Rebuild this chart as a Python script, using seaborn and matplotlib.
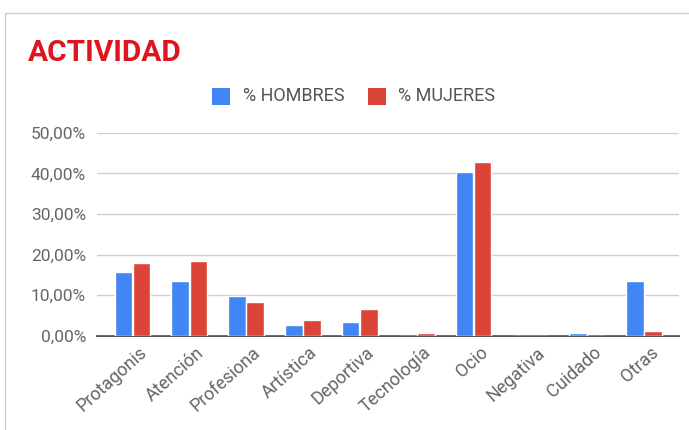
import seaborn as sns
import matplotlib.pyplot as plt
import matplotlib.transforms as mtransforms
import pandas as pd
from matplotlib.ticker import FuncFormatter, MultipleLocator
from matplotlib.patches import Rectangle

categorias = ["Protagonis", "Atención", "Profesiona", "Artística", "Deportiva",
              "Tecnología", "Ocio", "Negativa", "Cuidado", "Otras"]
hombres = [15.8, 13.6, 9.9, 2.7, 3.5, 0.0, 40.3, 0.0, 0.6, 13.6]
mujeres = [18.0, 18.5, 8.4, 3.9, 6.5, 0.6, 42.9, 0.0, 0.0, 1.3]
series = ["% HOMBRES", "% MUJERES"]
colores = ["#4285F4", "#DB4437"]

df = pd.DataFrame({
    "Actividad": categorias * 2,
    "Serie": [series[0]] * len(categorias) + [series[1]] * len(categorias),
    "Valor": hombres + mujeres,
})

sns.set_style("white")
plt.rcParams['font.family'] = ['Roboto', 'DejaVu Sans']

fig = plt.figure(figsize=(6.89, 4.3), dpi=100)
ax = fig.add_axes([0.141, 0.219, 0.845, 0.472])

sns.barplot(data=df, x="Actividad", y="Valor", hue="Serie", palette=colores,
            width=0.64, gap=0.04, saturation=1, legend=False, ax=ax)

ax.set_ylim(0, 50)
ax.set_xlim(-0.62, len(categorias) - 0.38)
ax.yaxis.set_major_locator(MultipleLocator(10))
ax.yaxis.set_major_formatter(FuncFormatter(lambda v, p: f"{v:.2f}".replace(".", ",") + "%"))
ax.grid(axis="y", color="#d0d0d0", linewidth=1)
ax.set_axisbelow(True)
for s in ["top", "right", "left"]:
    ax.spines[s].set_visible(False)
ax.spines["bottom"].set_color("#333333")
ax.spines["bottom"].set_linewidth(1.2)
ax.spines["bottom"].set_zorder(0.5)
ax.set_xlabel("")
ax.set_ylabel("")
ax.tick_params(axis="both", length=0, colors="#666666")
ax.tick_params(axis="y", pad=8, labelsize=12.5)
ax.tick_params(axis="x", pad=4, labelsize=13)
offset = mtransforms.ScaledTranslation(6 / 100, -2 / 100, fig.dpi_scale_trans)
for lbl in ax.get_xticklabels():
    lbl.set_rotation(42)
    lbl.set_ha("right")
    lbl.set_rotation_mode("anchor")
    lbl.set_transform(lbl.get_transform() + offset)

# titulo
fig.text(0.04, 0.877, "ACTIVIDAD", color="#E0141E", fontsize=21.5, fontweight="bold",
         va="center")

# leyenda
leg_x = [0.308, 0.534]
for x0, nombre, c in zip(leg_x, series, colores):
    fig.patches.append(Rectangle((x0, 0.756), 0.026, 0.040, transform=fig.transFigure,
                                 facecolor=c, edgecolor="none"))
    fig.text(x0 + 0.044, 0.776, nombre, color="#555555", fontsize=13, va="center")

# marco
fig.add_artist(plt.Line2D([0.007, 1.0], [0.97, 0.97], transform=fig.transFigure,
                          color="#cccccc", linewidth=1))
fig.add_artist(plt.Line2D([0.007, 0.007], [0.0, 0.97], transform=fig.transFigure,
                          color="#cccccc", linewidth=1))

plt.savefig("out.png", dpi=100)
